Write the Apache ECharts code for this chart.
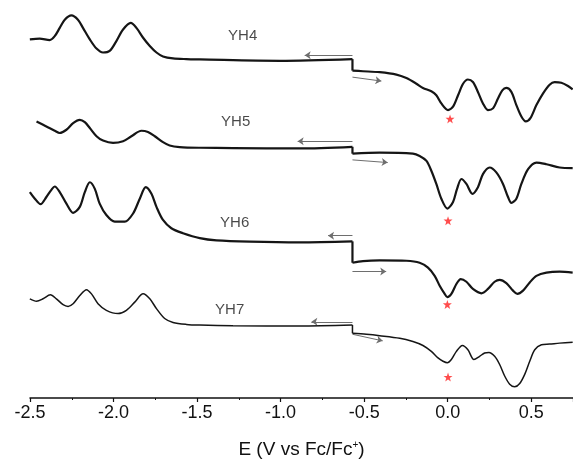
<!DOCTYPE html>
<html><head><meta charset="utf-8">
<script src="https://cdn.jsdelivr.net/npm/echarts@6/dist/echarts.min.js"></script>
<style>html,body{margin:0;padding:0;background:#fff}#c{width:573px;height:464px}</style>
</head><body><div id="c"></div>
<script>
// Potential (V vs Fc/Fc+) and current (arbitrary units, vertically offset)
const xTicks = [-2.5, -2.0, -1.5, -1.0, -0.5, 0.0, 0.5];
const names = ['YH4', 'YH5', 'YH6', 'YH7'];

const yh4LeftE  = [-2.501, -2.442, -2.382, -2.352, -2.322, -2.292, -2.252, -2.213, -2.183, -2.142, -2.102, -2.063, -2.023, -1.983, -1.943, -1.897, -1.863, -1.823, -1.783, -1.743, -1.704, -1.644, -1.564, -1.484, -1.005, -0.57];
const yh4LeftI  = [364, 364.7, 363.3, 367.3, 375.7, 384, 388.3, 384, 375.7, 364, 354.7, 350.7, 352.3, 362.3, 374, 380.7, 375.7, 365.7, 357.3, 350.7, 346.7, 344.7, 344, 343.7, 342.3, 344];
const yh4RightE = [-0.57, -0.507, -0.407, -0.307, -0.247, -0.187, -0.148, -0.098, -0.068, -0.038, 0.002, 0.032, 0.062, 0.092, 0.121, 0.151, 0.181, 0.211, 0.241, 0.271, 0.301, 0.327, 0.351, 0.381, 0.411, 0.441, 0.467, 0.495, 0.531, 0.570, 0.610, 0.640, 0.680, 0.720, 0.748];
const yh4RightI = [332.3, 331.7, 330.7, 328.3, 324.7, 319, 314.7, 311.3, 307.3, 299, 292.3, 295.7, 307.3, 319, 323.3, 320.7, 310.7, 299, 292.3, 294, 304, 312.3, 314.7, 310.7, 297.3, 285.7, 280.7, 284, 297.3, 309, 318, 320.7, 320, 316.7, 313.3];

const yh5LeftE  = [-2.461, -2.402, -2.352, -2.322, -2.282, -2.242, -2.202, -2.172, -2.142, -2.102, -2.063, -2.003, -1.943, -1.893, -1.833, -1.794, -1.753, -1.704, -1.664, -1.604, -1.484, -1.285, -0.886, -0.57];
const yh5LeftI  = [280.7, 275.7, 271.3, 269, 272.3, 279, 282.3, 280, 274, 265.7, 261.3, 259, 260.7, 265.7, 271.3, 270, 265.7, 259.7, 256.3, 254.7, 254, 253.7, 253.3, 255];
const yh5RightE = [-0.57, -0.407, -0.208, -0.168, -0.127, -0.098, -0.068, -0.038, -0.002, 0.032, 0.056, 0.082, 0.112, 0.148, 0.181, 0.211, 0.251, 0.291, 0.331, 0.361, 0.381, 0.411, 0.441, 0.481, 0.531, 0.591, 0.670, 0.748];
const yh5RightI = [248, 249, 248, 245.7, 240.7, 230.7, 217.3, 202.3, 192.3, 199, 212.3, 222.3, 217.3, 207.3, 214, 227.3, 234, 229, 217.3, 204, 198, 202.3, 217.3, 232.3, 239, 237.3, 234, 233.3];

const yh6LeftE  = [-2.501, -2.471, -2.437, -2.402, -2.372, -2.352, -2.322, -2.282, -2.242, -2.202, -2.172, -2.142, -2.112, -2.083, -2.043, -1.993, -1.933, -1.883, -1.843, -1.807, -1.773, -1.743, -1.704, -1.654, -1.584, -1.484, -1.384, -1.185, -0.886, -0.57];
const yh6LeftI  = [209, 202.3, 196.7, 204, 211.3, 214.7, 209, 197.3, 188, 194, 209, 219, 212.3, 197.3, 185.7, 179, 179, 187.3, 202.3, 214, 207.3, 194, 180.7, 172.3, 167.3, 162.3, 160, 158.7, 158, 159];
const yh6RightE = [-0.57, -0.507, -0.407, -0.247, -0.168, -0.118, -0.078, -0.048, -0.018, -0.002, 0.022, 0.052, 0.078, 0.112, 0.151, 0.202, 0.241, 0.281, 0.311, 0.351, 0.391, 0.417, 0.451, 0.491, 0.531, 0.591, 0.670, 0.748];
const yh6RightI = [137.3, 139, 139.7, 139.3, 137.3, 132.3, 124, 114, 105.7, 102.3, 105.7, 115.7, 120.7, 118, 110.7, 106.3, 110.7, 118, 120, 116.7, 109, 105.7, 109, 117.3, 124, 127.3, 128.3, 127.3];

const yh7LeftE  = [-2.501, -2.461, -2.422, -2.378, -2.342, -2.302, -2.272, -2.242, -2.202, -2.162, -2.132, -2.093, -2.043, -1.973, -1.923, -1.873, -1.823, -1.783, -1.743, -1.694, -1.644, -1.564, -1.484, -1.285, -0.886, -0.57];
const yh7LeftI  = [100.7, 98.3, 100.7, 104.7, 100.7, 94.7, 93, 95.7, 104, 110, 105.7, 95.7, 89, 85.7, 89, 97.3, 105.7, 100.7, 90.7, 80.7, 76.7, 74.7, 74, 73.3, 73, 74];
const yh7RightE = [-0.57, -0.487, -0.407, -0.287, -0.208, -0.148, -0.098, -0.058, -0.028, -0.002, 0.022, 0.052, 0.088, 0.121, 0.157, 0.191, 0.221, 0.247, 0.281, 0.311, 0.341, 0.371, 0.401, 0.431, 0.461, 0.491, 0.521, 0.561, 0.610, 0.670, 0.748];
const yh7RightI = [65.7, 64.7, 63.3, 60.7, 57.3, 53.3, 47.3, 40.7, 37.3, 35.7, 39, 47.3, 53.3, 49, 39, 42.3, 45.7, 46.3, 42.3, 34, 22.3, 14, 11.3, 14.7, 24, 37.3, 49, 54, 54.7, 55.7, 56.7];

// annotations
const labelE = [-1.227, -1.269, -1.275, -1.305];
const labelI = [368, 280, 178, 89];
const starE = [0.014, 0.002, -0.002, 0.002];
const starI = [283.3, 180, 95, 21.3];
const backArrowFrom = [[-0.57, 348], [-0.57, 260.7], [-0.57, 164.7], [-0.57, 77.3]];
const backArrowTo   = [[-0.856, 348], [-0.898, 260.7], [-0.716, 164.7], [-0.816, 77.3]];
const fwdArrowFrom  = [[-0.57, 325.7], [-0.57, 241.7], [-0.57, 128.3], [-0.57, 64.7]];
const fwdArrowTo    = [[-0.397, 321.7], [-0.359, 239], [-0.368, 128.3], [-0.389, 58]];

const curves = [
  [yh4LeftE, yh4LeftI, yh4RightE, yh4RightI, 2.2],
  [yh5LeftE, yh5LeftI, yh5RightE, yh5RightI, 2.2],
  [yh6LeftE, yh6LeftI, yh6RightE, yh6RightI, 2.2],
  [yh7LeftE, yh7LeftI, yh7RightE, yh7RightI, 1.5]
];
const zip = (a, b) => a.map((v, i) => [v, b[i]]);
const FONT = 'Liberation Sans, Arial, sans-serif';
const series = [];
curves.forEach((c, k) => {
  const [le, li, re, ri, w] = c;
  const ls = { color: '#151515', width: w };
  series.push({ type: 'line', name: names[k] + ' reverse', data: zip(le, li), smooth: 0.3, symbol: 'none', lineStyle: ls, silent: true });
  series.push({ type: 'line', name: names[k] + ' step', data: [[le[le.length-1], li[li.length-1]], [re[0], ri[0]]], symbol: 'none', lineStyle: ls, silent: true });
  series.push({ type: 'line', name: names[k] + ' forward', data: zip(re, ri), smooth: 0.3, symbol: 'none', lineStyle: ls, silent: true });
});
series.push({
  type: 'lines', coordinateSystem: 'cartesian2d', silent: true,
  symbol: ['none', 'arrow'], symbolSize: 6,
  lineStyle: { color: '#6e6e6e', width: 1, opacity: 1 },
  data: backArrowFrom.map((p, i) => ({ coords: [p, backArrowTo[i]] }))
    .concat(fwdArrowFrom.map((p, i) => ({ coords: [p, fwdArrowTo[i]] })))
});
series.push({
  type: 'scatter', silent: true,
  symbol: 'path://M0,-10 L2.35,-3.24 L9.51,-3.09 L3.8,1.24 L5.88,8.09 L0,4 L-5.88,8.09 L-3.8,1.24 L-9.51,-3.09 L-2.35,-3.24 Z',
  symbolSize: 9, itemStyle: { color: '#ff2020' },
  data: zip(starE, starI)
});
series.push({
  type: 'scatter', silent: true, symbolSize: 1, itemStyle: { color: 'transparent' },
  label: { show: true, position: 'inside', formatter: p => p.value[2], fontFamily: FONT, fontSize: 15, color: '#1a1a1a' },
  data: names.map((n, i) => [labelE[i], labelI[i], n])
});

const chart = echarts.init(document.getElementById('c'), null, { renderer: 'canvas' });
chart.setOption({
  animation: false,
  backgroundColor: '#fff',
  grid: { left: 30, right: 0, top: 0, bottom: 60, containLabel: false },
  xAxis: {
    type: 'value', min: -2.5, max: 0.75, interval: 0.5,
    name: 'E (V vs Fc/Fc{sup|+})', nameLocation: 'middle', nameGap: 42,
    nameTextStyle: { fontFamily: FONT, fontSize: 19, color: '#111',
      rich: { sup: { fontFamily: FONT, fontSize: 10, verticalAlign: 'top', padding: [0, 0, 8, 0], color: '#111' } } },
    axisLine: { onZero: false, lineStyle: { color: '#111', width: 1.5 } },
    axisTick: { show: true, inside: false, length: 4, lineStyle: { color: '#111', width: 1.2 } },
    minorTick: { show: true, splitNumber: 2, length: 2, lineStyle: { color: '#111', width: 1 } },
    axisLabel: { fontFamily: FONT, fontSize: 18, color: '#111', margin: 6, showMaxLabel: false,
      formatter: v => (xTicks.some(t => Math.abs(t - v) < 1e-9) ? v.toFixed(1) : '') },
    splitLine: { show: false }
  },
  yAxis: { type: 'value', min: 0, max: 404, show: false, splitLine: { show: false } },
  series: series
});
</script></body></html>
